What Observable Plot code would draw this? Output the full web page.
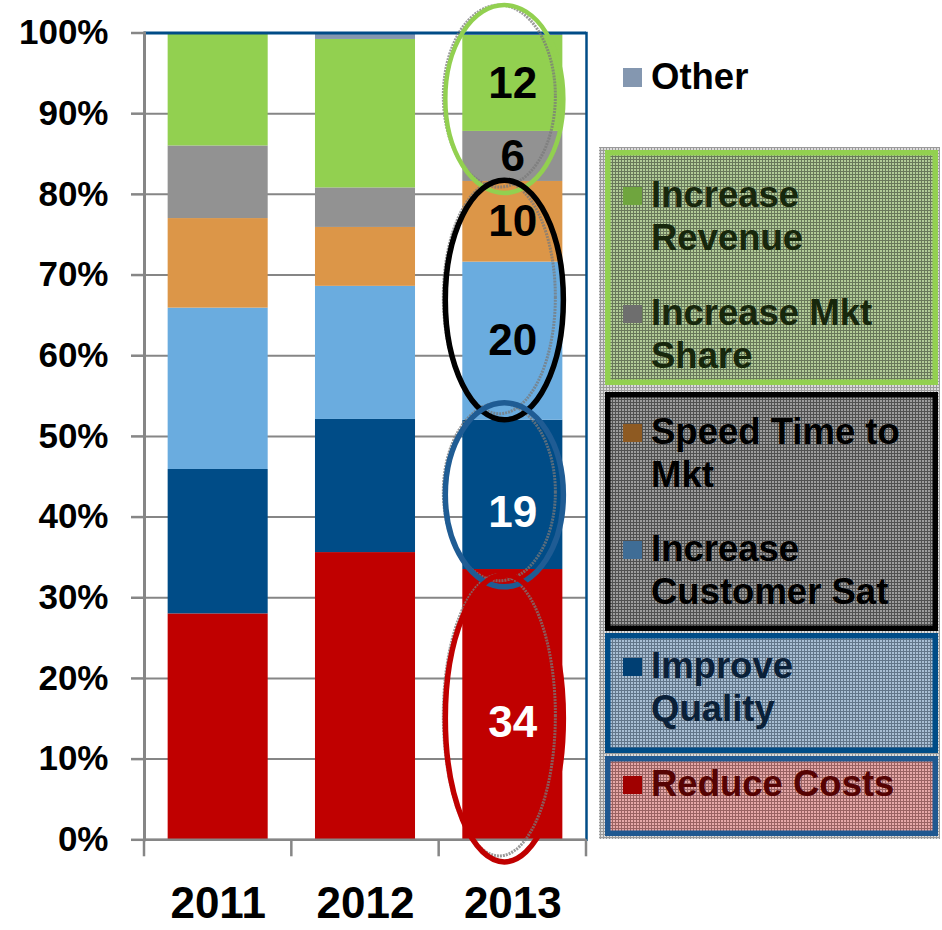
<!DOCTYPE html>
<html><head><meta charset="utf-8">
<script src="https://cdn.jsdelivr.net/npm/d3@7"></script>
<script src="https://cdn.jsdelivr.net/npm/@observablehq/plot@0.6"></script>
<style>body{margin:0;background:#fff;} #chart{width:942px;height:930px;}</style>
</head><body><div id="chart"></div>
<script>
// ---- data (percent of respondents) ----
const years = ["2011", "2012", "2013"];
const seriesNames = ["Reduce Costs", "Improve Quality", "Increase Customer Sat", "Speed Time to Mkt", "Increase Mkt Share", "Increase Revenue", "Other"];
const reduceCosts = [28.0, 35.6, 33.5];
const improveQuality = [17.9, 16.5, 18.5];
const customerSat = [20.0, 16.5, 19.6];
const speedTime = [11.1, 7.3, 10.0];
const mktShare = [9.0, 4.9, 6.2];
const revenue = [14.0, 18.4, 11.9];
const other = [0.0, 0.8, 0.3];
const labels2013 = ["34", "19", "20", "10", "6", "12", ""];
const yTicks = [0, 10, 20, 30, 40, 50, 60, 70, 80, 90, 100];
const seriesColors = ["#c00000", "#004c87", "#6aacdf", "#dc9648", "#929292", "#92d050", "#8497b0"];
const legendSwatch = ["#a00000", "#003f73", "#3f6d96", "#8e5a22", "#6e6e6e", "#6fa53e", "#8497b0"];
// annotation ellipses on 2013 (percent extents)
const ellipseLow = [80.1, 52.0, 31.3, -2.8];
const ellipseHigh = [103.4, 81.7, 54.1, 32.8];
const ellipseColors = ["#92d050", "#000000", "#1f5c94", "#c00000"];

const valuesBySeries = [reduceCosts, improveQuality, customerSat, speedTime, mktShare, revenue, other];
const rows = [];
years.forEach((yr, i) => seriesNames.forEach((s, k) => rows.push({year: yr, series: s, value: valuesBySeries[k][i], label: yr === "2013" ? labels2013[k] : ""})));
const rows2013 = rows.filter(d => d.year === "2013");
const whiteSet = new Set(["Reduce Costs", "Improve Quality"]);

const FONT = "'Liberation Sans', Arial, Helvetica, sans-serif";
const W = 942, H = 930;

const plot = Plot.plot({
  width: W, height: H,
  marginLeft: 144, marginRight: 356, marginTop: 32.5, marginBottom: 90.7,
  style: {fontFamily: FONT, fontWeight: "bold", background: "#fff", color: "#000"},
  x: {type: "band", domain: years, paddingInner: 0.321, paddingOuter: 0.1605, align: 0.5, round: false},
  y: {domain: [0, 100]},
  color: {domain: seriesNames, range: seriesColors},
  marks: [
    Plot.gridY(yTicks, {stroke: "#868686", strokeOpacity: 1, strokeWidth: 2}),
    Plot.barY(rows, Plot.stackY({x: "year", y: "value", z: "series", fill: "series", order: seriesNames})),
    Plot.frame({anchor: "right", stroke: "#004c87", strokeWidth: 2.5}),
    Plot.ruleY([100], {stroke: "#004c87", strokeWidth: 3}),
    Plot.frame({anchor: "left", stroke: "#868686", strokeWidth: 3}),
    Plot.ruleY([0], {stroke: "#868686", strokeWidth: 2.5}),
    Plot.axisY({ticks: yTicks, tickSize: 13, tickPadding: 23, tickFormat: d => d + "%", stroke: "#868686", strokeWidth: 2.5, fill: "#000", fontSize: 35, label: null}),
    Plot.axisX({tickSize: 0, tickPadding: 47, fontSize: 44, fill: "#000", label: null}),
    Plot.text(rows2013, Plot.stackY({x: "year", y: "value", z: "series", order: seriesNames,
      text: d => whiteSet.has(d.series) ? "" : d.label, fill: "#000", fontSize: 44, fontWeight: "bold"})),
    Plot.text(rows2013, Plot.stackY({x: "year", y: "value", z: "series", order: seriesNames,
      text: d => whiteSet.has(d.series) ? d.label : "", fill: "#fff", fontSize: 44, fontWeight: "bold", dy: 18}))
  ]
});
document.getElementById("chart").appendChild(plot);

// ---- post-processing with the plot's own scales ----
const svg = d3.select(plot);
const xs = plot.scale("x"), ys = plot.scale("y");
const bw = xs.bandwidth;
const step = xs.step || bw / (1 - 0.321);
const yZero = ys.apply(0);

// category boundary ticks below the x axis
const bounds = years.map(yr => xs.apply(yr) + bw / 2 - step / 2);
bounds.push(xs.apply(years[years.length - 1]) + bw / 2 + step / 2);
const gT = svg.append("g");
bounds.forEach(bx => gT.append("line").attr("x1", bx).attr("x2", bx).attr("y1", yZero).attr("y2", yZero + 17)
  .attr("stroke", "#868686").attr("stroke-width", 2.5));

// ellipse annotations around 2013 segments
const gE = svg.append("g").attr("fill", "none");
const cx2013 = xs.apply("2013") + bw / 2 - 8;
ellipseLow.forEach((lo, i) => {
  const a = ys.apply(lo), b = ys.apply(ellipseHigh[i]);
  const cy = (a + b) / 2, ry = Math.abs(a - b) / 2, rx = bw * 0.59;
  gE.append("ellipse").attr("cx", cx2013 - 5).attr("cy", cy - 3).attr("rx", rx - 3).attr("ry", ry - 3)
    .attr("stroke", "#7a7a7a").attr("stroke-width", 3).attr("stroke-dasharray", "2 1").attr("opacity", 0.75);
});
ellipseLow.forEach((lo, i) => {
  const a = ys.apply(lo), b = ys.apply(ellipseHigh[i]);
  const cy = (a + b) / 2, ry = Math.abs(a - b) / 2, rx = bw * 0.59;
  gE.append("ellipse").attr("cx", cx2013).attr("cy", cy).attr("rx", rx).attr("ry", ry)
    .attr("stroke", ellipseColors[i]).attr("stroke-width", i === 0 ? 4.5 : 5.5);
});

// ---- legend ----
const defs = svg.append("defs");
function hatch(id, base, line) {
  const p = defs.append("pattern").attr("id", id).attr("width", 3).attr("height", 3).attr("patternUnits", "userSpaceOnUse");
  p.append("rect").attr("width", 3).attr("height", 3).attr("fill", base);
  p.append("rect").attr("width", 3).attr("height", 1).attr("fill", line);
  p.append("rect").attr("width", 1).attr("height", 3).attr("fill", line);
}
hatch("hBg", "#dcdcdc", "#9a9a9a");
hatch("hGreen", "#b2cc98", "#68785a");
hatch("hGray", "#9c9c9c", "#505050");
hatch("hBlue", "#a9bfd4", "#62768a");
hatch("hRed", "#e6a8a8", "#9a6262");

const gL = svg.append("g").attr("font-family", FONT).attr("font-weight", "bold").attr("font-size", 36.5).attr("text-anchor", "start");
const idx = s => seriesNames.indexOf(s);
// "Other" (outside boxes)
gL.append("rect").attr("x", 623).attr("y", 68).attr("width", 19).attr("height", 19).attr("fill", legendSwatch[idx("Other")]);
gL.append("text").attr("x", 651).attr("y", 89).attr("fill", "#000").text("Other");

gL.append("rect").attr("x", 599).attr("y", 147).attr("width", 341).attr("height", 692).attr("fill", "url(#hBg)");

const boxes = [
  {y0: 150, y1: 385, stroke: "#92d050", fill: "url(#hGreen)", text: "#17270c",
    items: [{s: "Increase Revenue", lines: ["Increase", "Revenue"], base: 207}, {s: "Increase Mkt Share", lines: ["Increase Mkt", "Share"], base: 325}]},
  {y0: 392, y1: 631, stroke: "#000000", fill: "url(#hGray)", text: "#000",
    items: [{s: "Speed Time to Mkt", lines: ["Speed Time to", "Mkt"], base: 444}, {s: "Increase Customer Sat", lines: ["Increase", "Customer Sat"], base: 561}]},
  {y0: 633, y1: 753, stroke: "#004c87", fill: "url(#hBlue)", text: "#0a2038",
    items: [{s: "Improve Quality", lines: ["Improve", "Quality"], base: 678}]},
  {y0: 756, y1: 836, stroke: "#1f5890", fill: "url(#hRed)", text: "#560303",
    items: [{s: "Reduce Costs", lines: ["Reduce Costs"], base: 796}]}
];
const sw = 5.5;
boxes.forEach(b => {
  gL.append("rect").attr("x", 605 + sw / 2).attr("y", b.y0 + sw / 2).attr("width", 938 - 605 - sw).attr("height", b.y1 - b.y0 - sw)
    .attr("fill", b.fill).attr("stroke", b.stroke).attr("stroke-width", sw);
  b.items.forEach(it => {
    gL.append("rect").attr("x", 623).attr("y", it.base - 20).attr("width", 19).attr("height", 18).attr("fill", legendSwatch[idx(it.s)]);
    it.lines.forEach((ln, j) => gL.append("text").attr("x", 651).attr("y", it.base + j * 42.5).attr("fill", b.text).text(ln));
  });
});
</script>
</body></html>
